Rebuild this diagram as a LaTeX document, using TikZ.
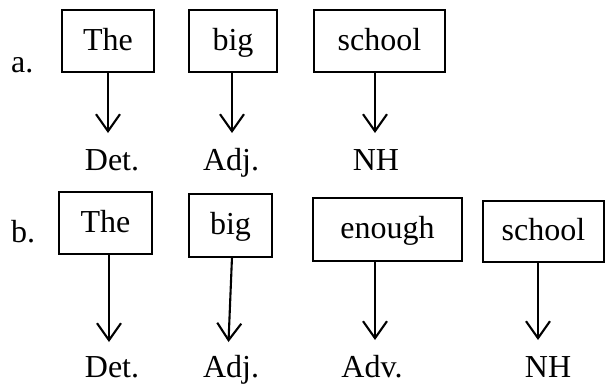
\documentclass[tikz,border=0pt]{standalone}
\usepackage{fontspec}
\setmainfont{Liberation Serif}
\usetikzlibrary{arrows.meta}
\begin{document}
\begin{tikzpicture}[x=1pt,y=-1pt,
  every node/.style={font=\fontsize{32}{36}\selectfont},
  wordbox/.style={draw, line width=1.3pt, inner sep=0pt, text height=22pt, text depth=4pt},
  lbl/.style={anchor=base, inner sep=0pt},
  arr/.style={line width=2.1pt, -{Straight Barb[length=17pt,width=24pt,line width=2.1pt]}}]
\useasboundingbox (0,0) rectangle (605,383);
% row a
\node[lbl, anchor=base west] (la) at (11,72) {a.};
\node[wordbox, minimum width=92pt, minimum height=62pt] (A1) at (108,41) {The};
\node[wordbox, minimum width=88pt, minimum height=62pt] (A2) at (233,41) {big};
\node[wordbox, minimum width=131pt, minimum height=62pt] (A3) at (379.5,41) {school};
\coordinate (tA1) at (108,133);
\coordinate (tA2) at (232,133);
\coordinate (tA3) at (375,133);
\draw[arr] (tA1 |- A1.south) -- (tA1);
\draw[arr] (tA2 |- A2.south) -- (tA2);
\draw[arr] (tA3 |- A3.south) -- (tA3);
\node[lbl] (da) at (112,170) {Det.};
\node[lbl] (aa) at (231,170) {Adj.};
\node[lbl] (na) at (376,170) {NH};
% row b
\node[lbl, anchor=base west] (lb) at (11,242) {b.};
\node[wordbox, minimum width=93pt, minimum height=62pt] (B1) at (105.5,223) {The};
\node[wordbox, minimum width=83pt, minimum height=63pt] (B2) at (230.5,225.5) {big};
\node[wordbox, minimum width=149pt, minimum height=63pt] (B3) at (387.5,229.5) {enough};
\node[wordbox, minimum width=121pt, minimum height=61pt] (B4) at (543.5,231.5) {school};
\coordinate (tB1) at (109,342);
\coordinate (sB2) at (232,257);
\coordinate (tB2) at (228.5,342);
\coordinate (tB3) at (375,340);
\coordinate (tB4) at (538,340);
\draw[arr] (tB1 |- B1.south) -- (tB1);
\draw[arr] (sB2) -- (tB2);
\draw[arr] (tB3 |- B3.south) -- (tB3);
\draw[arr] (tB4 |- B4.south) -- (tB4);
\node[lbl] (db) at (112,377) {Det.};
\node[lbl] (ab) at (231,377) {Adj.};
\node[lbl] (vb) at (372,377) {Adv.};
\node[lbl] (nb) at (548,377) {NH};
\end{tikzpicture}
\end{document}
